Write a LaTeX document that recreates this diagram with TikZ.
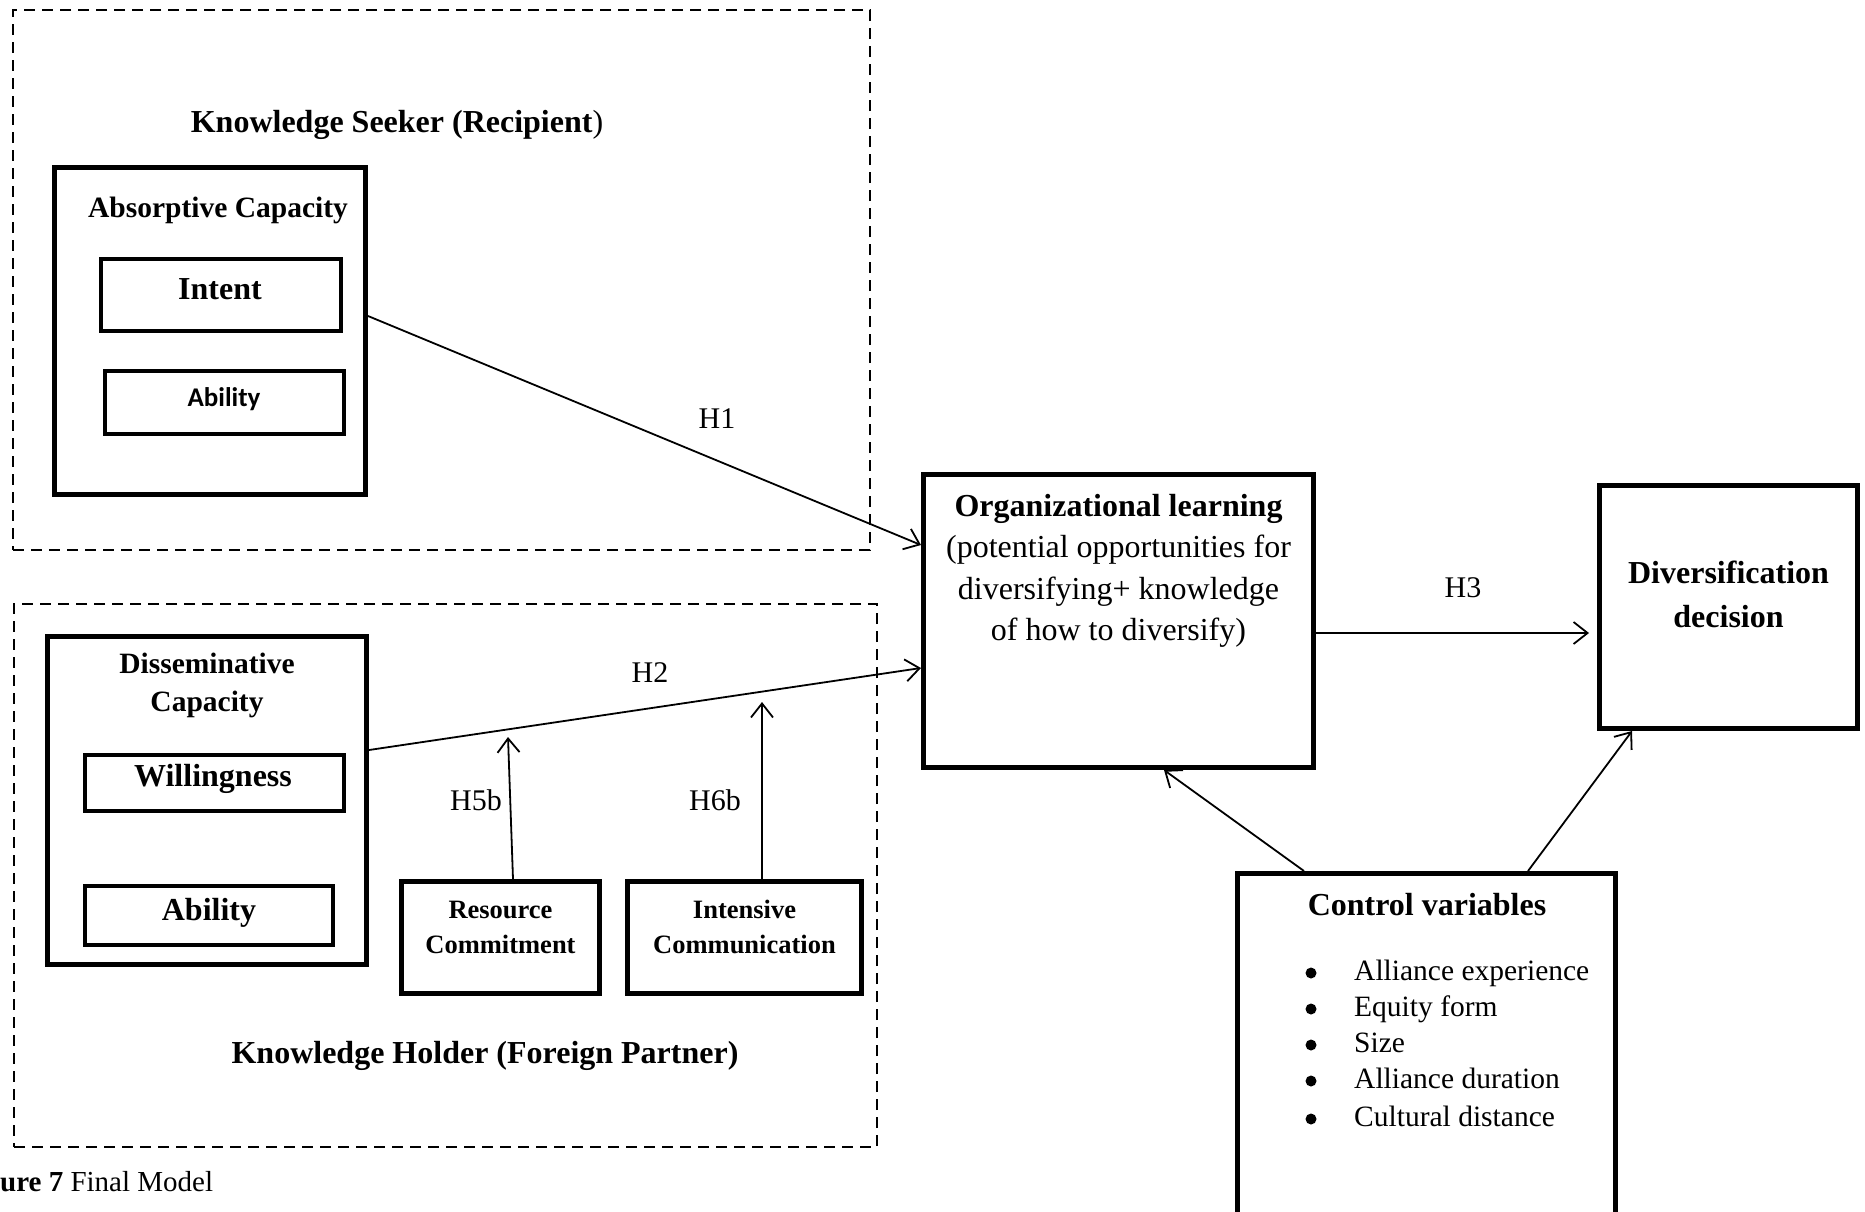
\documentclass[tikz,border=0pt]{standalone}
\usepackage{fontspec}
\setmainfont{Liberation Serif}
\newfontfamily\calfont{Carlito}
\usetikzlibrary{arrows.meta,calc}
\newcommand\fsL{\fontsize{32}{41.5}\selectfont}
\newcommand\fsM{\fontsize{29.5}{38}\selectfont}
\newcommand\fsS{\fontsize{26.5}{35}\selectfont}
\newcommand\fsD{\fontsize{32}{44}\selectfont}
\begin{document}
\begin{tikzpicture}[x=1pt,y=-1pt,
  dashbox/.style={draw, line width=2pt, dash pattern=on 11pt off 7pt, inner sep=0pt},
  thickbox/.style={draw, line width=5pt, inner sep=0pt},
  thinbox/.style={draw, line width=4pt, inner sep=0pt},
  lbl/.style={inner sep=0pt, align=center},
  conn/.style={line width=1.8pt, -{Straight Barb[length=14pt,width=22pt]}},
  dot/.style={circle, fill, inner sep=0pt, minimum size=11pt}]
\clip (0,0) rectangle (1865,1211);
\fill[white] (0,0) rectangle (1865,1211);

% group frames
\node[dashbox, minimum width=857pt, minimum height=540pt] (seeker) at (441.5,280) {};
\node[dashbox, minimum width=863pt, minimum height=543pt] (holder) at (445.5,875.5) {};
\node[lbl, font=\fsL] (seekerlbl) at (397,125) {\textbf{Knowledge Seeker (Recipient})};
\node[lbl, font=\fsL] (holderlbl) at (485,1056) {\textbf{Knowledge Holder (Foreign Partner)}};

% knowledge seeker
\node[thickbox, minimum width=311pt, minimum height=327pt] (abs) at (210,331) {};
\node[lbl, font=\fsM] (abslbl) at (218,210) {\textbf{Absorptive Capacity}};
\node[thinbox, minimum width=240pt, minimum height=72pt] (intent) at (221,295) {};
\node[lbl, font=\fsL] (intentlbl) at (220,289) {\textbf{Intent}};
\node[thinbox, minimum width=239pt, minimum height=63pt] (abil1) at (224.5,402.5) {};
\node[lbl, font=\fontsize{27}{32}\selectfont\calfont] (abil1lbl) at (224,399) {\textbf{Ability}};

% knowledge holder
\node[thickbox, minimum width=319pt, minimum height=328pt] (diss) at (207,800.5) {};
\node[lbl, font=\fsM] (disslbl) at (207,685) {\textbf{Disseminative}\\\textbf{Capacity}};
\node[thinbox, minimum width=259pt, minimum height=56pt] (will) at (214.5,783) {};
\node[lbl, font=\fsL] (willlbl) at (213,779) {\textbf{Willingness}};
\node[thinbox, minimum width=248pt, minimum height=59pt] (abil2) at (209,915.5) {};
\node[lbl, font=\fsL] (abil2lbl) at (209,913) {\textbf{Ability}};
\node[thickbox, minimum width=198pt, minimum height=112pt] (res) at (500.5,937.5) {};
\node[lbl, font=\fsS] (reslbl) at (500.5,927) {\textbf{Resource}\\\textbf{Commitment}};
\node[thickbox, minimum width=234pt, minimum height=112pt] (inten) at (744.5,937.5) {};
\node[lbl, font=\fsS] (intenlbl) at (744.5,927) {\textbf{Intensive}\\\textbf{Communication}};

% right side
\node[thickbox, minimum width=390pt, minimum height=293pt] (ol) at (1118.5,621) {};
\node[lbl, font=\fsL] (ollbl) at (1118.5,571) {\textbf{Organizational learning}\\(potential opportunities for\\diversifying+ knowledge\\of how to diversify)};
\node[thickbox, minimum width=258pt, minimum height=243pt] (dd) at (1728.5,607) {};
\node[lbl, font=\fsD] (ddlbl) at (1728.5,594) {\textbf{Diversification}\\\textbf{decision}};
\node[thickbox, minimum width=378pt, minimum height=364pt] (cv) at (1426.5,1055.5) {};
\node[lbl, font=\fsL] (cvlbl) at (1427,905) {\textbf{Control variables}};
\foreach \i/\yy/\t in {1/973/Alliance experience, 2/1009/Equity form, 3/1045/Size, 4/1081/Alliance duration, 5/1119/Cultural distance}{
  \node[dot] (cvb\i) at (1311,\yy) {};
  \node[lbl, anchor=west, font=\fsM] (cvi\i) at (1354,\yy) {\strut\t};
}

% hypothesis labels
\node[lbl, font=\fontsize{30}{36}\selectfont] (h1) at (717,419) {H1};
\node[lbl, font=\fontsize{30}{36}\selectfont] (h2) at (650,673) {H2};
\node[lbl, font=\fontsize{30}{36}\selectfont] (h3) at (1463,588) {H3};
\node[lbl, font=\fontsize{30}{36}\selectfont] (h5b) at (476,800) {H5b};
\node[lbl, font=\fontsize{30}{36}\selectfont] (h6b) at (715,800) {H6b};

% caption
\node[lbl, anchor=west, font=\fontsize{29}{34}\selectfont] (cap) at (0,1182) {\textbf{ure 7} Final Model};

% connectors
\coordinate (h5tip) at (508,737);
\coordinate (h6tip) at (762,702);
\draw[conn] ([yshift=15pt]abs.east) -- ([yshift=76pt]ol.west);
\draw[conn] ([yshift=50.5pt]diss.east) -- ([yshift=-47pt]ol.west);
\draw[conn] ([xshift=12.5pt]res.north) -- (h5tip);
\draw[conn] ([xshift=17.5pt]inten.north) -- (h6tip);
\draw[conn, shorten >=8pt] ([yshift=-12pt]ol.east) -- ([yshift=-26pt]dd.west);
\draw[conn] ([xshift=-122.5pt]cv.north) -- ([xshift=45.5pt]ol.south);
\draw[conn] ([xshift=101.5pt]cv.north) -- ([xshift=-96.5pt]dd.south);
\end{tikzpicture}
\end{document}
